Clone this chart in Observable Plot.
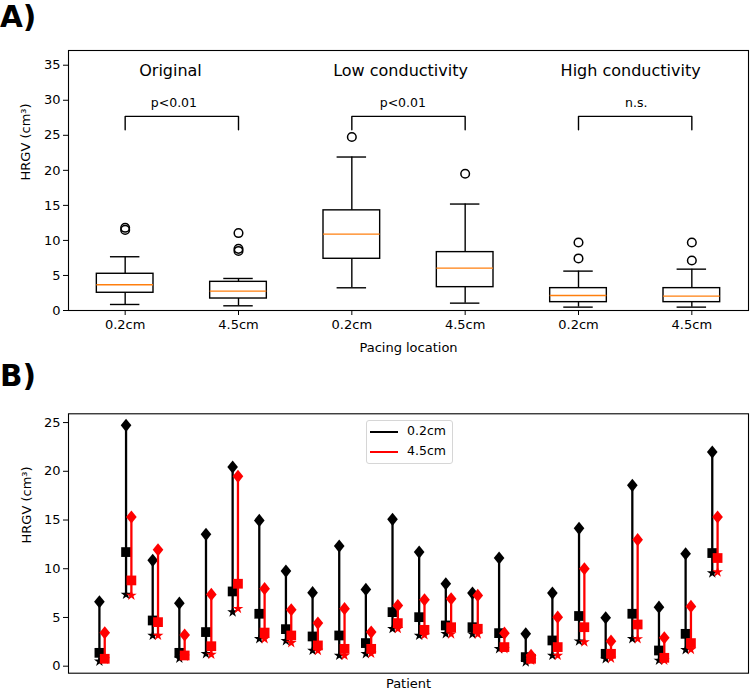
<!DOCTYPE html>
<html>
<head>
<meta charset="utf-8">
<script src="https://cdn.jsdelivr.net/npm/d3@7"></script>
<script src="https://cdn.jsdelivr.net/npm/@observablehq/plot@0.6"></script>
<style>
  body { margin: 0; background: #fff; font-family: "DejaVu Sans", sans-serif; }
  #wrap { position: relative; width: 750px; height: 690px; overflow: hidden; }
  .panel { position: absolute; left: 0; }
  .letter { position: absolute; left: 0; font-weight: bold; font-size: 29.5px; line-height: 1.17; font-family: "DejaVu Sans", sans-serif; }
  #legend { position: absolute; left: 366px; top: 420px; width: 85px; height: 42px; border: 1px solid #d6d6d6; border-radius: 3px; background: #fff; font-size: 12.5px; }
  #legend .row { position: absolute; left: 0; height: 20px; width: 85px; }
  #legend .sw { position: absolute; left: 3px; width: 28px; height: 2px; }
  #legend .lab { position: absolute; left: 40px; line-height: 14px; }
</style>
</head>
<body>
<div id="wrap">
  <div id="panelA" class="panel" style="top:0"></div>
  <div id="panelB" class="panel" style="top:360px"></div>
  <div class="letter" style="top:0px">A)</div>
  <div class="letter" style="top:359px">B)</div>
  <div id="legend">
    <div class="row" style="top:0"><div class="sw" style="top:10px;background:#000"></div><div class="lab" style="top:3px">0.2cm</div></div>
    <div class="row" style="top:20px"><div class="sw" style="top:10px;background:#f00"></div><div class="lab" style="top:3px">4.5cm</div></div>
  </div>
</div>
<script>
// ---------- Panel A data ----------
const groupLabels = ["Original", "Low conductivity", "High conductivity"];
const pLabels = ["p<0.01", "p<0.01", "n.s."];
const locations = ["0.2cm", "4.5cm", "0.2cm", "4.5cm", "0.2cm", "4.5cm"];
const whiskerLow = [0.86, 0.67, 3.24, 1.05, 0.48, 0.48];
const q1 = [2.53, 1.71, 7.38, 3.33, 1.19, 1.19];
const median = [3.67, 2.76, 10.9, 6.05, 2.14, 2.05];
const q3 = [5.24, 4.09, 14.29, 8.33, 3.19, 3.19];
const whiskerHigh = [7.67, 4.57, 21.9, 15.19, 5.62, 5.9];
const outliers = [[11.5, 11.8], [11.05, 8.8, 8.5], [24.76], [19.52], [9.71, 7.43], [9.71, 7.14]];

// ---------- Panel B data (24 patients) ----------
const patients = d3.range(1, 25);
const max02 = [6.61, 24.72, 10.86, 6.47, 13.53, 20.44, 14.96, 9.76, 7.54, 12.33, 7.88, 15.07, 11.71, 8.46, 7.5, 11.1, 3.32, 7.5, 14.15, 4.97, 18.56, 6.06, 11.54, 21.98];
const mid02 = [1.37, 11.71, 4.69, 1.37, 3.5, 7.67, 5.38, 3.8, 3.05, 3.15, 2.37, 5.55, 5.03, 4.18, 4.0, 3.39, 0.93, 2.64, 5.15, 1.27, 5.38, 1.61, 3.32, 11.61];
const min02 = [0.5, 7.36, 3.15, 0.8, 1.27, 5.55, 2.81, 2.6, 1.61, 1.1, 1.27, 3.84, 3.15, 3.32, 3.3, 1.78, 0.41, 1.1, 2.57, 0.76, 2.81, 0.59, 1.68, 9.55];
const max45 = [3.43, 15.31, 11.95, 3.2, 7.36, 19.48, 7.95, 5.79, 4.42, 5.9, 3.5, 6.23, 6.82, 6.92, 7.26, 3.39, 1.1, 5.03, 10.0, 2.57, 12.98, 2.92, 6.13, 15.31];
const mid45 = [0.76, 8.8, 4.52, 1.1, 2.05, 8.46, 3.45, 3.15, 2.13, 1.78, 1.78, 4.42, 3.73, 4.0, 3.84, 1.96, 0.76, 1.96, 4.0, 1.27, 4.28, 0.86, 2.37, 11.1];
const min45 = [0.7, 7.26, 3.15, 1.0, 1.2, 5.9, 2.81, 2.4, 1.6, 1.1, 1.3, 3.84, 3.2, 3.3, 3.3, 1.78, 0.6, 1.1, 2.47, 0.8, 2.8, 0.6, 1.7, 9.66];

// ---------- Panel A ----------
const boxes = locations.map((loc, i) => ({
  pos: i + 1, loc, lo: whiskerLow[i], q1: q1[i], med: median[i], q3: q3[i], hi: whiskerHigh[i]
}));
const outlierRows = outliers.flatMap((vals, i) => vals.map(v => ({pos: i + 1, v})));
const groups = groupLabels.map((g, k) => ({g, p: pLabels[k], a: 2 * k + 1, b: 2 * k + 2}));
const bracketTop = 27.7, bracketFoot = 25.8;
const bracketRows = groups.flatMap((d, k) => [
  {k, x: d.a, y: bracketFoot}, {k, x: d.a, y: bracketTop}, {k, x: d.b, y: bracketTop}, {k, x: d.b, y: bracketFoot}
]);
const titleShift = [-0.1, -0.07, -0.04];
const pShift = [-0.07, -0.05, 0.01];

const boxStroke = 1.4;
const plotA = Plot.plot({
  width: 750, height: 360,
  marginTop: 50, marginBottom: 50, marginLeft: 68, marginRight: 2,
  style: {fontFamily: "DejaVu Sans, sans-serif", color: "#000", background: "transparent"},
  x: {type: "linear", domain: [0.5, 6.5]},
  y: {domain: [0, 37.1]},
  marks: [
    Plot.frame({stroke: "#000", strokeWidth: 1.1}),
    Plot.axisY({ticks: d3.range(0, 36, 5), tickSize: 5, tickPadding: 3, fontSize: 13, label: null}),
    Plot.axisX({ticks: boxes.map(d => d.pos), tickFormat: p => locations[p - 1], tickSize: 5, tickPadding: 4, fontSize: 13, label: null}),
    Plot.text(["HRGV (cm³)"], {frameAnchor: "left", dx: -43, rotate: -90, text: d => d, fontSize: 13, lineAnchor: "middle"}),
    Plot.text(["Pacing location"], {frameAnchor: "bottom", dy: 37, text: d => d, fontSize: 13, lineAnchor: "middle"}),
    Plot.ruleX(boxes, {x: "pos", y1: "lo", y2: "q1", stroke: "#000", strokeWidth: boxStroke}),
    Plot.ruleX(boxes, {x: "pos", y1: "q3", y2: "hi", stroke: "#000", strokeWidth: boxStroke}),
    Plot.ruleY(boxes, {y: "lo", x1: d => d.pos - 0.13, x2: d => d.pos + 0.13, stroke: "#000", strokeWidth: boxStroke}),
    Plot.ruleY(boxes, {y: "hi", x1: d => d.pos - 0.13, x2: d => d.pos + 0.13, stroke: "#000", strokeWidth: boxStroke}),
    Plot.rect(boxes, {x1: d => d.pos - 0.25, x2: d => d.pos + 0.25, y1: "q1", y2: "q3", fill: "none", stroke: "#000", strokeWidth: boxStroke}),
    Plot.ruleY(boxes, {y: "med", x1: d => d.pos - 0.25, x2: d => d.pos + 0.25, stroke: "#ff7f0e", strokeWidth: boxStroke}),
    Plot.dot(outlierRows, {x: "pos", y: "v", r: 4.3, stroke: "#000", strokeWidth: 1.5, fill: "none"}),
    Plot.line(bracketRows, {x: "x", y: "y", z: "k", stroke: "#000", strokeWidth: boxStroke}),
    Plot.text(groups, {x: (d, k) => (d.a + d.b) / 2 + titleShift[k], y: 34.2, text: "g", fontSize: 16, fill: "#000"}),
    Plot.text(groups, {x: (d, k) => (d.a + d.b) / 2 + pShift[k], y: 29.6, text: "p", fontSize: 12.5, fill: "#000"})
  ]
});
document.getElementById("panelA").appendChild(plotA);

// ---------- Panel B ----------
const rows02 = patients.map((p, i) => ({x: i, max: max02[i], mid: mid02[i], min: min02[i]}));
const rows45 = patients.map((p, i) => ({x: i + 0.2, max: max45[i], mid: mid45[i], min: min45[i]}));

const thinDiamond = {
  draw(context, size) {
    const s = Math.sqrt(size);
    const h = s * 0.62, w = s * 0.5;
    context.moveTo(0, -h);
    context.lineTo(w, 0);
    context.lineTo(0, h);
    context.lineTo(-w, 0);
    context.closePath();
  }
};

function seriesMarks(rows, color) {
  return [
    Plot.ruleX(rows, {x: "x", y1: "min", y2: "max", stroke: color, strokeWidth: 2.3}),
    Plot.dot(rows, {x: "x", y: "max", symbol: thinDiamond, r: 6, fill: color, stroke: "none"}),
    Plot.dot(rows, {x: "x", y: "mid", symbol: "square", r: 5.5, fill: color, stroke: "none"}),
    Plot.dot(rows, {x: "x", y: "min", symbol: "star", r: 3.4, fill: color, stroke: "none"})
  ];
}

const plotB = Plot.plot({
  width: 750, height: 330,
  marginTop: 53.3, marginBottom: 17.3, marginLeft: 68, marginRight: 2,
  style: {fontFamily: "DejaVu Sans, sans-serif", color: "#000", background: "transparent"},
  x: {type: "linear", domain: [-1.16, 24.36], axis: null},
  y: {domain: [-0.72, 25.9]},
  marks: [
    Plot.frame({stroke: "#000", strokeWidth: 1.1}),
    Plot.axisY({ticks: d3.range(0, 26, 5), tickSize: 5, tickPadding: 3, fontSize: 13, label: null}),
    Plot.text(["HRGV (cm³)"], {frameAnchor: "left", dx: -42, rotate: -90, text: d => d, fontSize: 13, lineAnchor: "middle"}),
    Plot.text(["Patient"], {frameAnchor: "bottom", dy: 11, text: d => d, fontSize: 13, lineAnchor: "middle"}),
    ...seriesMarks(rows02, "#000"),
    ...seriesMarks(rows45, "#ff0000")
  ]
});
document.getElementById("panelB").appendChild(plotB);
</script>
</body>
</html>
